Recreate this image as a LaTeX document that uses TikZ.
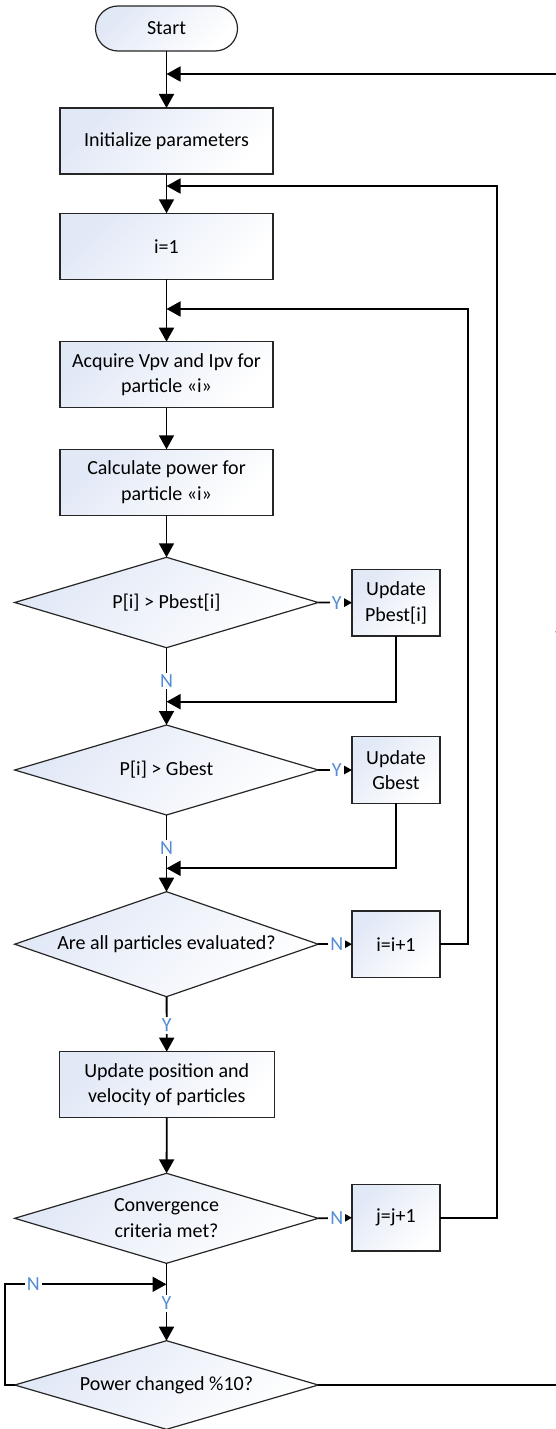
\documentclass[tikz,border=0pt]{standalone}
\usepackage{fontspec}
\setmainfont{Carlito}
\usetikzlibrary{arrows.meta,shapes.geometric}
\definecolor{fillblue}{RGB}{225,232,246}
\definecolor{labelblue}{RGB}{84,141,212}
\begin{document}
\begin{tikzpicture}[x=0.5pt,y=-0.5pt,
  font=\fontsize{10}{12.8}\selectfont,
  shaded/.style={top color=fillblue, bottom color=white, shading angle=45},
  proc/.style={shaded, draw=black!85, line width=0.6pt, rectangle,
    minimum width=106.5pt, minimum height=33pt, align=center,
    inner sep=0pt, outer sep=0pt},
  side/.style={proc, minimum width=44pt, minimum height=33.3pt},
  term/.style={proc, minimum width=71pt, minimum height=22.5pt, rounded corners=11.25pt},
  dec/.style={shaded, draw=black!85, line width=0.6pt, diamond, aspect=3,
    minimum width=151.8pt, minimum height=#1, align=center,
    inner sep=0pt, outer sep=0pt},
  flow/.style={line width=0.9pt, -{Triangle[length=7pt,width=7.5pt]}},
  wire/.style={line width=0.9pt},
  lbl/.style={text=labelblue, fill=white, inner sep=1pt}
]
\useasboundingbox (0,0) rectangle (556,1429);

% main column
\node[term] (start) at (166.5,28.5) {Start};
\node[proc] (init) at (166.5,141) {Initialize parameters};
\node[proc] (ione) at (166.5,246.3) {i=1};
\node[proc] (acq) at (166.5,374.7) {Acquire Vpv and Ipv for\\particle «i»};
\node[proc] (calc) at (166.5,482.3) {Calculate power for\\particle «i»};
\node[dec=45.2pt] (d1) at (166.5,602.5) {P[i] > Pbest[i]};
\node[dec=45pt] (d2) at (166.5,770) {P[i] > Gbest};
\node[dec=52.5pt] (d3) at (166.5,944.2) {Are all particles evaluated?};
\node[proc, minimum width=107.5pt] (upd) at (166.8,1084.7) {Update position and\\velocity of particles};
\node[dec=45pt] (d4) at (166.5,1218.3) {Convergence\\criteria met?};
\node[dec=44.3pt] (d5) at (166.5,1385) {Power changed \%10?};

% side boxes
\node[side] (upb) at (396,602.7) {Update\\Pbest[i]};
\node[side] (ugb) at (396,770) {Update\\Gbest};
\node[side] (inc) at (396,944.2) {i=i+1};
\node[side] (jinc) at (396,1217.7) {j=j+1};

% junction points on the main column
\coordinate (m0) at (166.5,74);
\coordinate (m1) at (166.5,186);
\coordinate (m2) at (166.5,309);
\coordinate (m3) at (166.5,701.7);
\coordinate (m4) at (166.5,868.3);
\coordinate (m5) at (166.5,1284.3);
\coordinate (far) at (560,74);
\coordinate (left) at (5,1284.3);

% straight flow
\draw[flow] (start) -- (init);
\draw[flow] (init) -- (ione);
\draw[flow] (ione) -- (acq);
\draw[flow] (acq) -- (calc);
\draw[flow] (calc) -- (d1);
\draw[flow] (d1) -- node[lbl, pos=0.43] {N} (d2);
\draw[flow] (d2) -- node[lbl, pos=0.43] {N} (d3);
\draw[flow] (d3) -- node[lbl, pos=0.52] {Y} (upd);
\draw[flow] (upd) -- (d4);
\draw[flow] (d4) -- node[lbl, pos=0.52] {Y} (d5);

% side branches
\draw[flow] (d1.east) -- node[lbl, pos=0.55] {Y} (upb.west);
\draw[flow] (d2.east) -- node[lbl, pos=0.55] {Y} (ugb.west);
\draw[flow] (d3.east) -- node[lbl, pos=0.55] {N} (inc.west);
\draw[flow] (d4.east) -- node[lbl, pos=0.55] {N} (jinc.west);

% returns into the main column
\draw[flow] (upb.south) |- (m3);
\draw[flow] (ugb.south) |- (m4);
\draw[flow] (inc.east) -- ++(28,0) |- (m2);
\draw[flow] (jinc.east) -- ++(57,0) |- (m1);
\draw[flow] (d5.west) -| (left) -- node[lbl, pos=0.175] {N} (m5);
\draw[flow] (d5.east) -| (far) node[lbl, pos=0.785] {Y} -- (m0);
\end{tikzpicture}
\end{document}
